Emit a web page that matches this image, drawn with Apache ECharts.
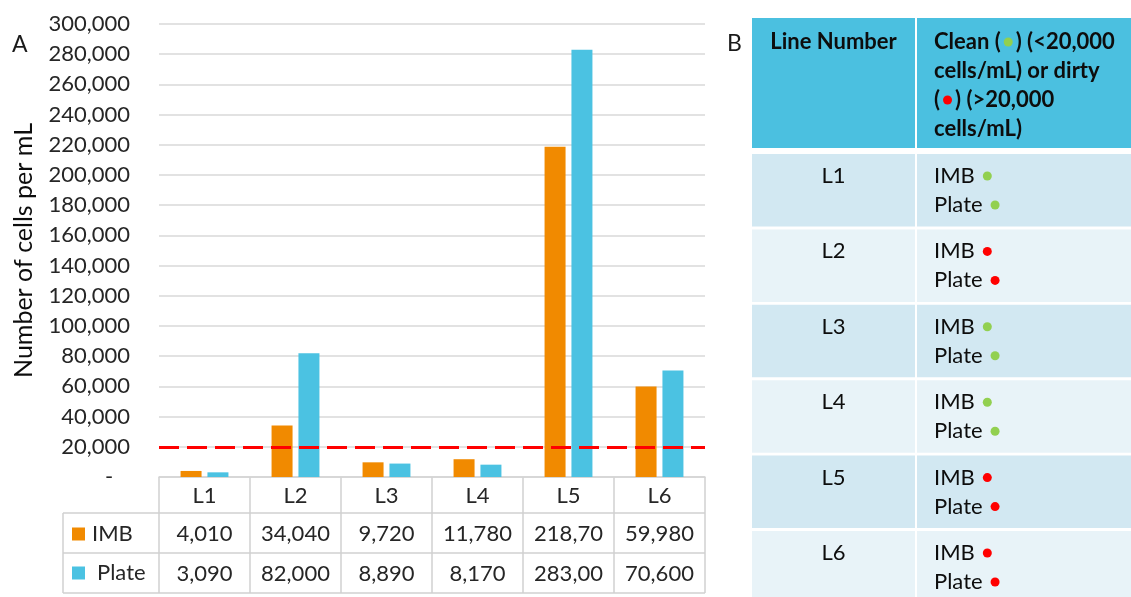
<!DOCTYPE html>
<html>
<head>
<meta charset="utf-8">
<script src="https://cdn.jsdelivr.net/npm/echarts@6/dist/echarts.min.js"></script>
<style>
  html, body { margin: 0; padding: 0; background: #ffffff; }
  #chart { width: 1131px; height: 597px; }
</style>
</head>
<body>
<div id="chart"></div>
<script>
// Cell counts per production line
const lines = ['L1', 'L2', 'L3', 'L4', 'L5', 'L6'];
const imb = [4010, 34040, 9720, 11780, 218700, 59980];
const plate = [3090, 82000, 8890, 8170, 283000, 70600];
const threshold = 20000;

// Axis range
const yMin = 0;
const yMax = 300000;
const yStep = 20000;

// Clean / dirty status per line (panel B)
const imbStatus = ['clean', 'dirty', 'clean', 'clean', 'dirty', 'dirty'];
const plateStatus = ['clean', 'dirty', 'clean', 'clean', 'dirty', 'dirty'];

const FONT = 'Lato';
const FS = 22;
const TEXT = '#262626';
const ORANGE = '#F18A00';
const BLUE = '#4BC2E2';
const GRID_LINE = '#d9d9d9';
const GREEN_DOT = '#92D050';
const RED_DOT = '#FF0000';

const fmt = v => v.toLocaleString('en-US');

const chart = echarts.init(document.getElementById('chart'), null, { renderer: 'canvas' });

chart.setOption({
  animation: false,
  backgroundColor: '#ffffff',
  title: [
    { text: 'A', left: 12, top: 33, padding: 0,
      textStyle: { fontFamily: FONT, fontSize: 23, fontWeight: 'normal', color: '#1a1a1a' } },
    { text: 'B', left: 727, top: 32, padding: 0,
      textStyle: { fontFamily: FONT, fontSize: 23, fontWeight: 'normal', color: '#1a1a1a' } }
  ],
  legend: [
    { data: ['IMB'], left: 72, top: 523, orient: 'vertical', selectedMode: false,
      icon: 'rect', itemWidth: 13, itemHeight: 13, padding: 0,
      textStyle: { fontFamily: FONT, fontSize: FS, color: TEXT, lineHeight: 22, padding: [0, 0, 0, 2] } },
    { data: ['Plate'], left: 72, top: 562, orient: 'vertical', selectedMode: false,
      icon: 'rect', itemWidth: 13, itemHeight: 13, padding: 0,
      textStyle: { fontFamily: FONT, fontSize: FS, color: TEXT, lineHeight: 22, padding: [0, 0, 0, 7] } }
  ],
  grid: { left: 159, right: 426, top: 24, bottom: 120, containLabel: false },
  xAxis: {
    type: 'category',
    data: lines,
    axisTick: { show: false },
    axisLine: { show: true, lineStyle: { color: '#d4d4d4', width: 1.5 } },
    axisLabel: { fontFamily: FONT, fontSize: FS, color: TEXT, margin: 8 }
  },
  yAxis: {
    type: 'value',
    min: yMin,
    max: yMax,
    interval: yStep,
    name: 'Number of cells per mL',
    nameLocation: 'middle',
    nameRotate: 90,
    nameGap: 123,
    nameTextStyle: { fontFamily: FONT, fontSize: 25, color: '#0d0d0d' },
    axisLine: { show: false },
    axisTick: { show: false },
    axisLabel: {
      fontFamily: FONT, fontSize: FS, color: TEXT, margin: 29,
      formatter: v => (v === 0 ? '-   ' : fmt(v))
    },
    splitLine: { lineStyle: { color: GRID_LINE, width: 1.5 } }
  },
  series: [
    {
      name: 'IMB', type: 'bar', data: imb, barWidth: 21, barGap: '28%',
      itemStyle: { color: ORANGE },
      markLine: {
        silent: true, symbol: 'none',
        label: { show: false },
        lineStyle: { color: RED_DOT, type: [20, 8], width: 3 },
        data: [{ yAxis: threshold }]
      }
    },
    {
      name: 'Plate', type: 'bar', data: plate, barWidth: 21,
      itemStyle: { color: BLUE }
    }
  ]
});

// ---- Data table under the chart (values per category column) ----
const centers = lines.map(c => chart.convertToPixel({ xAxisIndex: 0 }, c));
const band = centers[1] - centers[0];
const edges = [centers[0] - band / 2].concat(centers.map(c => c + band / 2));
const y0 = chart.convertToPixel({ yAxisIndex: 0 }, 0);
const rowTops = [y0, y0 + 36, y0 + 76, y0 + 116];
const tableLeft = 63;
const TABLE_LINE = '#d0d0d0';

const graphics = [];
// horizontal rules
[rowTops[1], rowTops[2], rowTops[3]].forEach(y => {
  graphics.push({ type: 'line', silent: true,
    shape: { x1: tableLeft, y1: y, x2: edges[edges.length - 1], y2: y },
    style: { stroke: TABLE_LINE, lineWidth: 1.5 } });
});
// vertical rules
graphics.push({ type: 'line', silent: true,
  shape: { x1: tableLeft, y1: rowTops[1], x2: tableLeft, y2: rowTops[3] },
  style: { stroke: TABLE_LINE, lineWidth: 1.5 } });
edges.forEach(x => {
  graphics.push({ type: 'line', silent: true,
    shape: { x1: x, y1: rowTops[0], x2: x, y2: rowTops[3] },
    style: { stroke: TABLE_LINE, lineWidth: 1.5 } });
});
// values (cells clip text that is wider than the column)
[imb, plate].forEach((arr, r) => {
  const yc = (rowTops[r + 1] + rowTops[r + 2]) / 2 + 1;
  arr.forEach((v, i) => {
    graphics.push({ type: 'text', silent: true, x: centers[i], y: yc,
      style: { text: fmt(v), fontFamily: FONT, fontSize: FS, fill: TEXT,
        align: 'center', verticalAlign: 'middle',
        width: 75, overflow: 'truncate', ellipsis: '' } });
  });
});

// ---- Panel B: clean / dirty table ----
const bCol1 = { x: 752, w: 163 };
const bCol2 = { x: 917, w: 214 };
const headTop = 18, headH = 130;
const rowStart = 154, rowPitch = 75.4, rowH = 72.5;
const HEAD_BG = '#4BC0E0';
const ROW_BG = ['#D2E8F2', '#E8F3F8'];
const TABLE_TEXT = '#0d0d0d';

graphics.push({ type: 'rect', silent: true, shape: { x: bCol1.x, y: headTop, width: bCol1.w, height: headH }, style: { fill: HEAD_BG } });
graphics.push({ type: 'rect', silent: true, shape: { x: bCol2.x, y: headTop, width: bCol2.w, height: headH }, style: { fill: HEAD_BG } });
graphics.push({ type: 'text', silent: true, x: bCol1.x + bCol1.w / 2, y: 42,
  style: { text: 'Line Number', fontFamily: FONT, fontSize: FS, fontWeight: 'bold', fill: TABLE_TEXT,
    align: 'center', verticalAlign: 'middle' } });

const dotStyle = color => ({ width: 9, height: 9, backgroundColor: color, borderRadius: 4.5 });
const bold = { fontFamily: FONT, fontSize: FS, fontWeight: 'bold', fill: TABLE_TEXT, lineHeight: 29 };
graphics.push({ type: 'text', silent: true, x: 934, y: 27.5,
  style: {
    text: '{b|Clean (}{s| }{g| }{s| }{b|) (<20,000}\n{b|cells/mL) or dirty}\n{b|(}{s| }{r| }{s| }{b|) (>20,000}\n{b|cells/mL)}',
    align: 'left', verticalAlign: 'top',
    rich: {
      b: bold,
      s: { width: 3, fontSize: FS, lineHeight: 29 },
      g: dotStyle(GREEN_DOT),
      r: dotStyle(RED_DOT)
    }
  } });

const body = { fontFamily: FONT, fontSize: FS, fill: TABLE_TEXT };
lines.forEach((name, i) => {
  const top = rowStart + i * rowPitch;
  const bg = ROW_BG[i % 2];
  graphics.push({ type: 'rect', silent: true, shape: { x: bCol1.x, y: top, width: bCol1.w, height: rowH }, style: { fill: bg } });
  graphics.push({ type: 'rect', silent: true, shape: { x: bCol2.x, y: top, width: bCol2.w, height: rowH }, style: { fill: bg } });
  graphics.push({ type: 'text', silent: true, x: bCol1.x + bCol1.w / 2, y: top + 22,
    style: Object.assign({ text: name, align: 'center', verticalAlign: 'middle' }, body) });
  [['IMB', imbStatus[i], 22], ['Plate', plateStatus[i], 51]].forEach(([label, status, dy]) => {
    graphics.push({ type: 'text', silent: true, x: 934, y: top + dy,
      style: {
        text: '{t|' + label + '}{s| }{d| }',
        align: 'left', verticalAlign: 'middle',
        rich: {
          t: body,
          s: { width: 8, fontSize: FS },
          d: dotStyle(status === 'clean' ? GREEN_DOT : RED_DOT)
        }
      } });
  });
});

chart.setOption({ graphic: { elements: graphics } });
</script>
</body>
</html>
